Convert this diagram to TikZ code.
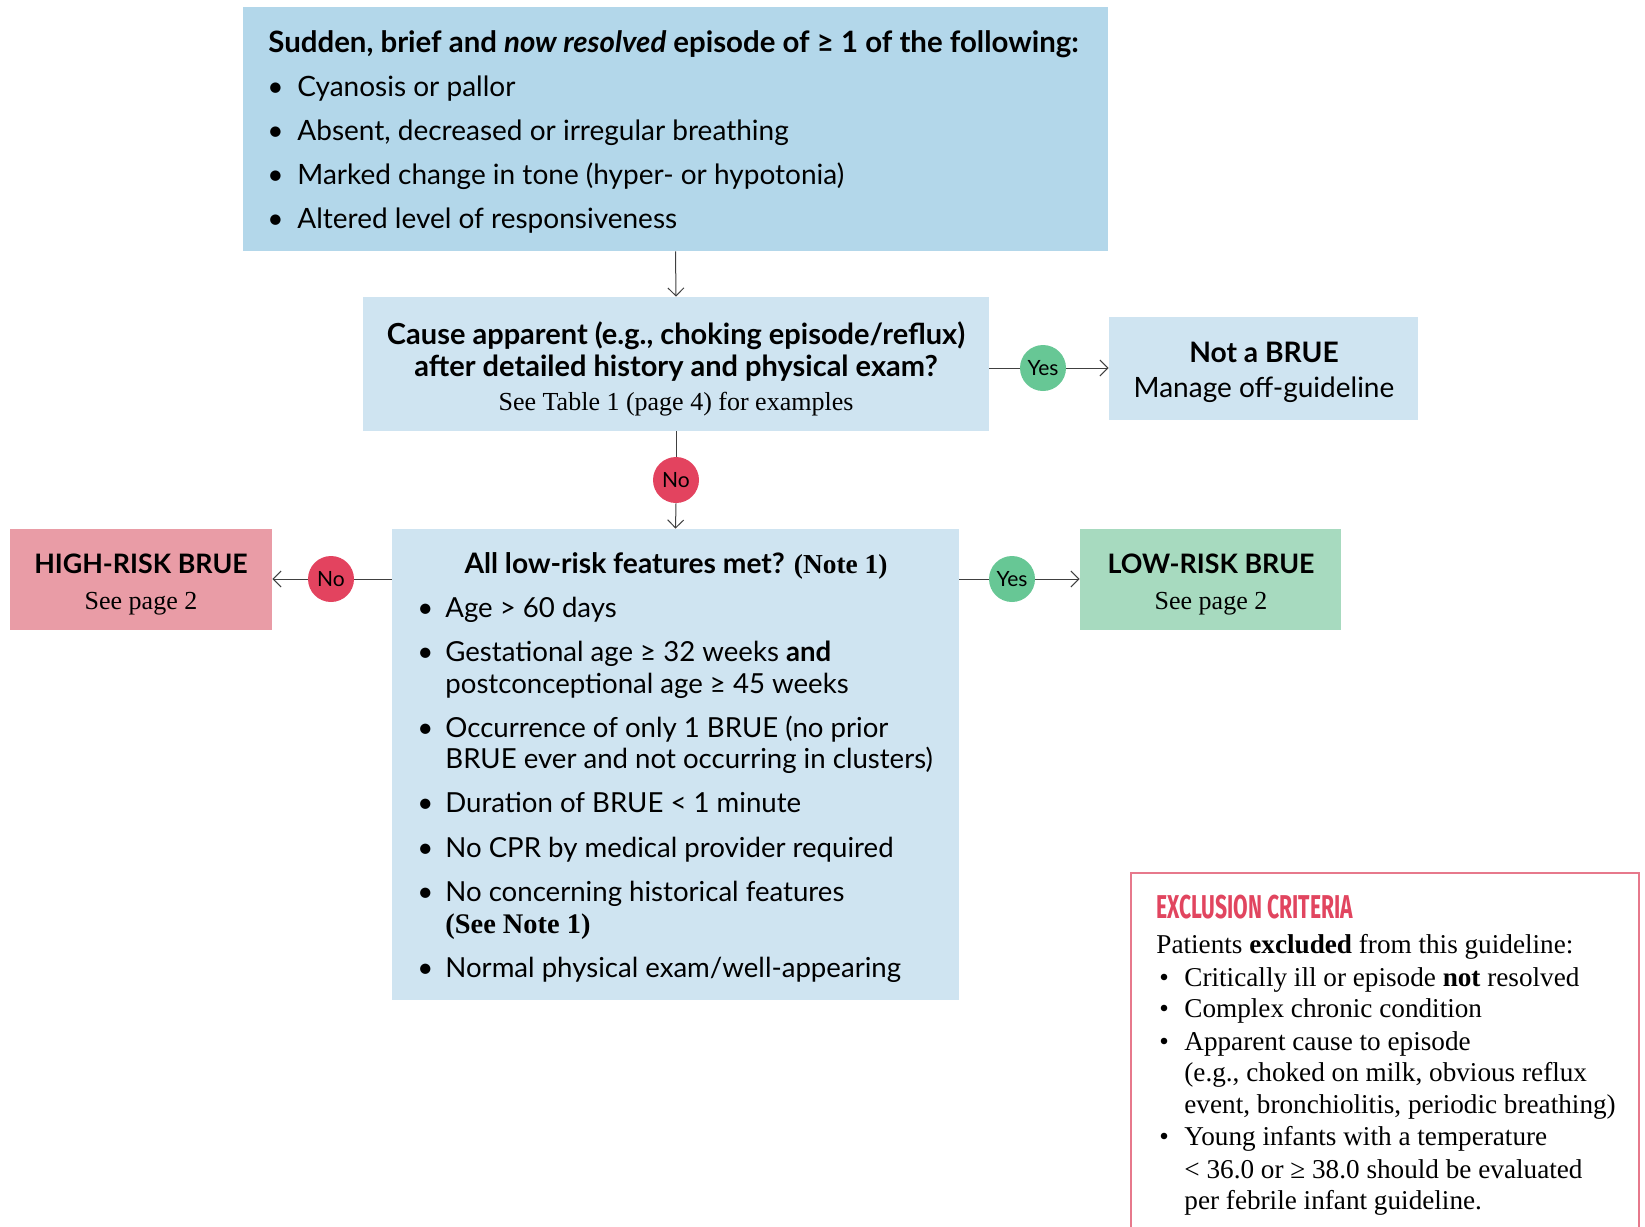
\documentclass[tikz,border=0pt]{standalone}
\usepackage{fontspec}
\setmainfont{Liberation Serif}
\newfontfamily\sansf{Lato}
\newfontfamily\condf[FakeStretch=0.64]{Fira Sans}
\usetikzlibrary{fit,arrows.meta}
\definecolor{topblue}{HTML}{B3D7EA}
\definecolor{lightblue}{HTML}{CFE4F1}
\definecolor{highpink}{HTML}{E99CA6}
\definecolor{lowgreen}{HTML}{A7DABF}
\definecolor{noRed}{HTML}{E3435F}
\definecolor{yesGreen}{HTML}{67C795}
\definecolor{exclBorder}{HTML}{E7798C}
\definecolor{exclTitle}{HTML}{E1455F}
\begin{document}
\begin{tikzpicture}[x=0.5pt,y=-0.5pt,
  box/.style={inner sep=0pt, draw=none},
  conn/.style={draw=black!75, line width=0.5pt},
  arr/.style={conn, -{Straight Barb[length=4pt,width=8pt]}},
  sf/.style={font=\sansf\fontsize{14}{16}\selectfont, inner sep=0pt},
  sfm/.style={font=\sansf\fontsize{13.8}{16}\selectfont, inner sep=0pt},
  sfb/.style={font=\sansf\bfseries\fontsize{14.5}{16}\selectfont, inner sep=0pt},
  sfbt/.style={font=\sansf\bfseries\fontsize{14.7}{16}\selectfont, inner sep=0pt},
  sfbm/.style={font=\sansf\bfseries\fontsize{14.1}{16}\selectfont, inner sep=0pt},
  sfbc/.style={font=\sansf\bfseries\fontsize{13.4}{16}\selectfont, inner sep=0pt},
  sr/.style={font=\fontsize{13}{15}\selectfont, inner sep=0pt},
  se/.style={font=\fontsize{13.6}{15}\selectfont, inner sep=0pt},
  lt/.style={anchor=base west},
  ct/.style={anchor=base},
  badge/.style={circle, inner sep=0pt, minimum size=23pt, font=\sansf\fontsize{10.5}{12}\selectfont}
]
\useasboundingbox (0,0) rectangle (1645,1227);

% boxes
\node[box, fill=topblue, fit={(243,7) (1108,251)}] (top) {};
\node[box, fill=lightblue, fit={(363,297) (989,431)}] (cause) {};
\node[box, fill=lightblue, fit={(1109,317) (1418,420)}] (notbrue) {};
\node[box, fill=lightblue, fit={(392,529) (959,1000)}] (low) {};
\node[box, fill=highpink, fit={(10,529) (272,630)}] (high) {};
\node[box, fill=lowgreen, fit={(1080,529) (1341,630)}] (lowrisk) {};

% badges
\node[badge, fill=yesGreen] (yes1) at (1043,368) {Yes};
\node[badge, fill=noRed] (no1) at (676,480) {No};
\node[badge, fill=noRed] (no2) at (331,579) {No};
\node[badge, fill=yesGreen] (yes2) at (1012,579) {Yes};

% connectors
\draw[arr] (top.south) -- (cause.north);
\draw[conn] (cause.east |- yes1) -- (yes1.west);
\draw[arr] (yes1.east) -- (notbrue.west |- yes1);
\draw[conn] (cause.south) -- (no1.north);
\draw[arr] (no1.south) -- (low.north);
\draw[conn] (low.west |- no2) -- (no2.east);
\draw[arr] (no2.west) -- (high.east |- no2);
\draw[conn] (low.east |- yes2) -- (yes2.west);
\draw[arr] (yes2.east) -- (lowrisk.west |- yes2);

% top box text
\node[sfbt, lt] (th) at (268,52) {Sudden, brief and \textit{now resolved} episode of ≥ 1 of the following:};
\foreach \yy/\tx [count=\i] in {96/Cyanosis or pallor, 140/{Absent, decreased or irregular breathing}, 184/Marked change in tone (hyper- or hypotonia), 228/Altered level of responsiveness}{
  \node[sf, lt] (tb\i) at (267,\yy) {•};
  \node[sf, lt] (tt\i) at (297,\yy) {\tx};
}

% cause box text
\node[sfb, ct] (c1) at (676,344) {Cause apparent (e.g., choking episode/reflux)};
\node[sfb, ct] (c2) at (676,376) {after detailed history and physical exam?};
\node[sr, ct] (c3) at (676,410) {See Table 1 (page 4) for examples};

% not a BRUE
\node[sfbm, ct] (n1) at (1264,362) {Not a BRUE};
\node[sf, ct] (n2) at (1264,397) {Manage off-guideline};

% high / low risk
\node[sfbc, ct] (h1) at (141,573) {HIGH-RISK BRUE};
\node[sr, ct] (h2) at (141,609) {See page 2};
\node[sfbc, ct] (l1) at (1211,573) {LOW-RISK BRUE};
\node[sr, ct] (l2) at (1211,609) {See page 2};

% low-risk features box
\node[sfbm, ct] (lh) at (676,573) {All low-risk features met? {\rmfamily\bfseries\fontsize{13.7}{16}\selectfont(Note 1)}};
\foreach \yy [count=\i] in {617,661,737,812,857,901,977}{
  \node[sfm, lt] (lb\i) at (417,\yy) {•};
}
\node[sfm, lt] (lf1) at (445,617) {Age > 60 days};
\node[sfm, lt] (lf2) at (445,661) {Gestational age ≥ 32 weeks \textbf{and}};
\node[sfm, lt] (lf3) at (445,693) {postconceptional age ≥ 45 weeks};
\node[sfm, lt] (lf4) at (445,737) {Occurrence of only 1 BRUE (no prior};
\node[sfm, lt] (lf5) at (445,768) {BRUE ever and not occurring in clusters)};
\node[sfm, lt] (lf6) at (445,812) {Duration of BRUE < 1 minute};
\node[sfm, lt] (lf7) at (445,857) {No CPR by medical provider required};
\node[sfm, lt] (lf8) at (445,901) {No concerning historical features};
\node[inner sep=0pt, lt, font=\rmfamily\bfseries\fontsize{14.2}{16}\selectfont] (lf9) at (445,933) {(See Note 1)};
\node[sfm, lt] (lf10) at (445,977) {Normal physical exam/well-appearing};

% exclusion criteria
\draw[exclBorder, line width=0.8pt] (1131,1227) |- (1639,873) -- (1639,1227);
\node[inner sep=0pt, lt, text=exclTitle, font=\condf\bfseries\fontsize{16.5}{18}\selectfont] (et) at (1156,918) {EXCLUSION CRITERIA};
\node[se, lt] (e0) at (1156,953) {Patients \textbf{excluded} from this guideline:};
\foreach \yy [count=\i] in {986,1017,1050,1145}{
  \node[se, lt] (eb\i) at (1159,\yy) {•};
}
\node[se, lt] (e1) at (1184,986) {Critically ill or episode \textbf{not} resolved};
\node[se, lt] (e2) at (1184,1017) {Complex chronic condition};
\node[se, lt] (e3) at (1184,1050) {Apparent cause to episode};
\node[se, lt] (e4) at (1184,1081) {(e.g., choked on milk, obvious reflux};
\node[se, lt] (e5) at (1184,1113) {event, bronchiolitis, periodic breathing)};
\node[se, lt] (e6) at (1184,1145) {Young infants with a temperature};
\node[se, lt] (e7) at (1184,1178) {< 36.0 or ≥ 38.0 should be evaluated};
\node[se, lt] (e8) at (1184,1209) {per febrile infant guideline.};
\end{tikzpicture}
\end{document}
